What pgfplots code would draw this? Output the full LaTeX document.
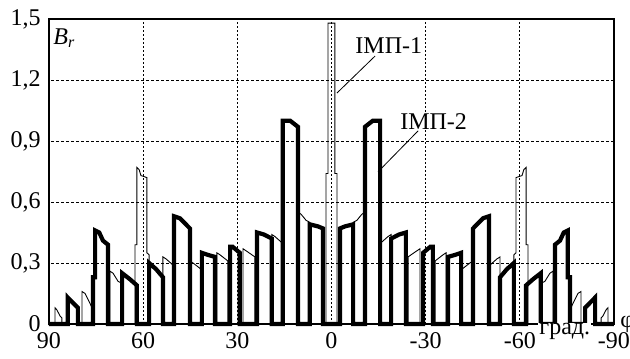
\documentclass[border=0pt]{standalone}
\usepackage{fontspec}
\setmainfont{Liberation Serif}
\usepackage{pgfplots}
\pgfplotsset{compat=1.18}
\begin{document}
\fontsize{12}{14}\selectfont
\begin{tikzpicture}
\begin{axis}[
  scale only axis, width=282.5pt, height=152.5pt,
  xmin=-90, xmax=90, ymin=0, ymax=1.5, x dir=reverse,
  xtick={-90,-60,-30,0,30,60,90},
  xticklabels={-90,-60,-30,0,30,60,90},
  ytick={0,0.3,0.6,0.9,1.2,1.5},
  yticklabels={0,{0,3},{0,6},{0,9},{1,2},{1,5}},
  major tick length=0pt,
  xmajorgrids,
  major grid style={black, line width=0.45pt, dash pattern=on 0.9pt off 1.1pt},
  extra y ticks={0.3,0.6,0.9,1.2}, extra y tick labels={},
  extra y tick style={grid=major, major grid style={black, line width=0.45pt, dash pattern=on 1.5pt off 1pt}},
  axis line style={line width=0.75pt},
  clip=false,
  tick label style={font=\fontsize{12}{14}\selectfont},
]
\coordinate (O) at (axis description cs:0,0);
% IMP-1 (thin)
\addplot[black, line width=0.45pt, line join=miter] coordinates {
(90,0)(88.1,0)(88.1,0.08)(87.5,0.07)(86.5,0.04)(85.9,0.03)(85.9,0)
(79.5,0)(79.5,0.16)(78.5,0.15)(76.9,0.10)(76,0.07)(76,0)
(70.6,0)(70.6,0.26)(69.6,0.25)(68,0.21)(66.7,0.20)(66.7,0)
(62.6,0)(62.6,0.39)(62,0.39)(62,0.77)(61.3,0.76)(60.7,0.73)(58.8,0.72)(58.8,0.35)(58.1,0.34)(58.1,0)
(53.7,0)(53.7,0.33)(52.7,0.32)(50.5,0.29)(50.5,0)
(45.1,0)(45.1,0.31)(44.1,0.30)(41.6,0.27)(41.6,0)
(36.5,0)(36.5,0.35)(35.5,0.34)(33,0.31)(33,0)
(28.2,0)(28.2,0.37)(27.2,0.36)(24.4,0.33)(24.4,0)
(19,0)(19,0.44)(18,0.43)(15.8,0.40)(15.8,0)
(10.7,0)(10.7,0.55)(9.7,0.54)(8.1,0.51)(6.9,0.50)(6.9,0)
(1.75,0)(1.75,0.74)(1.1,0.74)(1.1,1.48)(-1.1,1.48)(-1.1,0.74)(-1.75,0.74)(-1.75,0)
(-6.9,0)(-6.9,0.50)(-8.1,0.51)(-9.7,0.54)(-10.7,0.55)(-10.7,0)
(-15.8,0)(-15.8,0.40)(-18,0.43)(-19,0.44)(-19,0)
(-24.4,0)(-24.4,0.33)(-27.2,0.36)(-28.2,0.37)(-28.2,0)
(-33,0)(-33,0.31)(-35.5,0.34)(-36.5,0.35)(-36.5,0)
(-41.6,0)(-41.6,0.27)(-44.1,0.30)(-45.1,0.31)(-45.1,0)
(-50.5,0)(-50.5,0.29)(-52.7,0.32)(-53.7,0.33)(-53.7,0)
(-58.1,0)(-58.1,0.34)(-58.8,0.35)(-58.8,0.72)(-60.7,0.73)(-61.3,0.76)(-62,0.77)(-62,0.39)(-62.6,0.39)(-62.6,0)
(-66.7,0)(-66.7,0.20)(-68,0.21)(-69.6,0.25)(-70.6,0.26)(-70.6,0)
(-76,0)(-76,0.07)(-76.9,0.10)(-78.5,0.15)(-79.5,0.16)(-79.5,0)
(-85.9,0)(-85.9,0.03)(-86.5,0.04)(-87.5,0.07)(-88.1,0.08)(-88.1,0)(-90,0)
};
% IMP-2 (thick)
\addplot[black, line width=2.1pt, line join=miter] coordinates {
(90,0)(84,0)(84,0.13)(80.8,0.08)(80.8,0)
(76,0)(76,0.23)(75.3,0.23)(75.3,0.46)(74,0.45)(72.8,0.41)(71.2,0.39)(71.2,0)
(66.7,0)(66.7,0.25)(64.2,0.22)(62,0.19)(62,0)
(58.1,0)(58.1,0.30)(55.9,0.27)(53.7,0.23)(53.7,0)
(50.2,0)(50.2,0.53)(48.3,0.52)(45.1,0.47)(45.1,0)
(41.3,0)(41.3,0.35)(39.4,0.34)(37.1,0.33)(37.1,0)
(32.3,0)(32.3,0.38)(31.5,0.38)(29.2,0.35)(29.2,0)
(23.7,0)(23.7,0.45)(21.5,0.44)(19,0.42)(19,0)
(15.5,0)(15.5,1.0)(13.2,1.0)(10.7,0.97)(10.7,0)
(6.9,0)(6.9,0.49)(4.3,0.48)(2.7,0.47)(2.7,0)
(-2.7,0)(-2.7,0.47)(-4.3,0.48)(-6.9,0.49)(-6.9,0)
(-10.7,0)(-10.7,0.97)(-13.2,1.0)(-15.5,1.0)(-15.5,0)
(-19,0)(-19,0.42)(-21.5,0.44)(-23.7,0.45)(-23.7,0)
(-29.2,0)(-29.2,0.35)(-31.5,0.38)(-32.3,0.38)(-32.3,0)
(-37.1,0)(-37.1,0.33)(-39.4,0.34)(-41.3,0.35)(-41.3,0)
(-45.1,0)(-45.1,0.47)(-48.3,0.52)(-50.2,0.53)(-50.2,0)
(-53.7,0)(-53.7,0.23)(-55.9,0.27)(-58.1,0.30)(-58.1,0)
(-62,0)(-62,0.19)(-64.2,0.22)(-66.7,0.25)(-66.7,0)
(-71.2,0)(-71.2,0.39)(-72.8,0.41)(-74,0.45)(-75.3,0.46)(-75.3,0.23)(-76,0.23)(-76,0)
(-80.8,0)(-80.8,0.08)(-84,0.13)(-84,0)(-90,0)
};
\draw[line width=0.4pt] (axis cs:-1.75,1.136) -- (axis cs:-13.9,1.318);
\draw[line width=0.4pt] (axis cs:-14.8,0.748) -- (axis cs:-27.6,0.95);
\node[anchor=west, inner sep=0] at (axis cs:-7.5,1.367) {ІМП-1};
\node[anchor=west, inner sep=0] at (axis cs:-21.8,0.998) {ІМП-2};
\node[anchor=north west, inner sep=0] at ([xshift=2pt,yshift=-4.5pt]axis description cs:0,1) {\itshape B\textsubscript{r}};
\node[anchor=base west, fill=white, inner sep=0.5pt] at (axis cs:-65.8,-0.054) {град.};
\end{axis}
\node[anchor=base west, inner sep=0] at ([xshift=285.5pt,yshift=-1.5pt]O) {φ};
\pgfresetboundingbox
\path[use as bounding box] ([xshift=-24.5pt,yshift=-17pt]O) rectangle ([xshift=290.5pt,yshift=162pt]O);
\end{tikzpicture}
\end{document}
